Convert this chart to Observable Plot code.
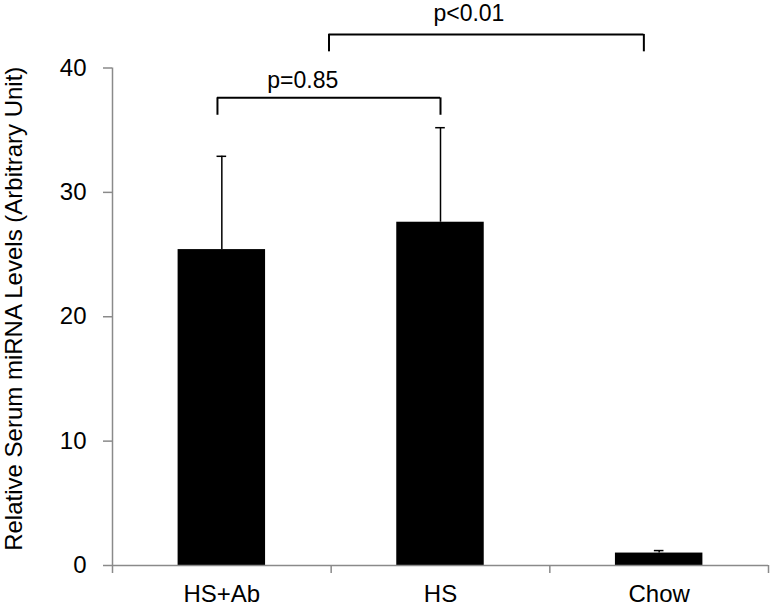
<!DOCTYPE html>
<html>
<head>
<meta charset="utf-8">
<script src="https://cdn.jsdelivr.net/npm/d3@7"></script>
<script src="https://cdn.jsdelivr.net/npm/@observablehq/plot@0.6"></script>
<style>
  html, body { margin: 0; padding: 0; background: #fff; }
</style>
</head>
<body>
<div id="chart"></div>
<script>
const categories = ["HS+Ab", "HS", "Chow"];
const means = [25.4, 27.6, 1.0];
const upperErrors = [7.5, 7.6, 0.2];
const yTicks = [0, 10, 20, 30, 40];
const yLabel = "Relative Serum miRNA Levels (Arbitrary Unit)";

// significance annotations (positions in category units / y units)
const bracketLabels = ["p=0.85", "p<0.01"];
const bracketFrom = [0.48, 0.99];
const bracketTo = [1.5, 2.43];
const bracketTop = [37.6, 42.7];
const bracketFoot = [36.2, 41.3];
const labelX = [0.87, 1.63];
const labelY = [39.0, 44.4];

const rows = categories.map((c, i) => ({cat: c, pos: i + 0.5, mean: means[i], top: means[i] + upperErrors[i]}));
const brackets = bracketLabels.map((l, i) => ({label: l, x1: bracketFrom[i], x2: bracketTo[i], top: bracketTop[i], foot: bracketFoot[i], lx: labelX[i], ly: labelY[i]}));

const halfBar = 0.2;
const halfCap = 0.022;
const axisGray = "#8a8a8a";

const chart = Plot.plot({
  width: 772,
  height: 607,
  marginLeft: 112,
  marginRight: 4,
  marginTop: 67.5,
  marginBottom: 42,
  style: {fontFamily: "'Liberation Sans', Arial, sans-serif", background: "white"},
  x: {domain: [0, categories.length], axis: null},
  y: {domain: [0, 40], axis: null},
  marks: [
    // bars
    Plot.rect(rows, {x1: d => d.pos - halfBar, x2: d => d.pos + halfBar, y1: 0, y2: "mean", fill: "black"}),
    // error bars (upper)
    Plot.ruleX(rows, {x: "pos", y1: "mean", y2: "top", stroke: "black", strokeWidth: 1.5}),
    Plot.ruleY(rows, {y: "top", x1: d => d.pos - halfCap, x2: d => d.pos + halfCap, stroke: "black", strokeWidth: 1.5}),
    // y axis
    Plot.axisY({ticks: yTicks, tickSize: 9, tickPadding: 17, stroke: axisGray, fill: "black", fontSize: 24, label: null, strokeWidth: 1.5}),
    Plot.ruleX([0], {y1: 0, y2: 40, stroke: axisGray, strokeWidth: 1.5}),
    // x axis
    Plot.ruleY([0], {x1: 0, x2: categories.length, stroke: axisGray, strokeWidth: 1.5}),
    Plot.axisX({ticks: d3.range(categories.length + 1), tickFormat: () => "", tickSize: 8, stroke: axisGray, strokeWidth: 1.5, label: null}),
    Plot.text(rows, {x: "pos", y: 0, text: "cat", dy: 29, fontSize: 24, fill: "black"}),
    // y label
    Plot.text([yLabel], {frameAnchor: "left", textAnchor: "middle", y: 20, dx: -98, dy: -8, rotate: -90, fontSize: 24, fill: "black"}),
    // brackets
    Plot.ruleY(brackets, {y: "top", x1: "x1", x2: "x2", stroke: "black", strokeWidth: 2}),
    Plot.ruleX(brackets, {x: "x1", y1: "foot", y2: "top", stroke: "black", strokeWidth: 2}),
    Plot.ruleX(brackets, {x: "x2", y1: "foot", y2: "top", stroke: "black", strokeWidth: 2}),
    Plot.text(brackets, {x: "lx", y: "ly", text: "label", fontSize: 23, fill: "black"})
  ]
});
document.getElementById("chart").appendChild(chart);
</script>
</body>
</html>
